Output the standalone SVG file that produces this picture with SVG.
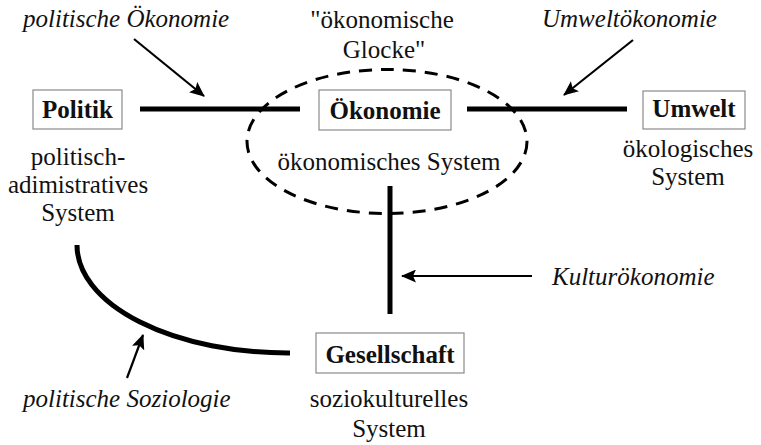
<svg xmlns="http://www.w3.org/2000/svg" width="761" height="445" viewBox="0 0 761 445">
<style>
text{font-family:"Liberation Serif","Times New Roman",serif;font-size:25px;fill:#111}
.b{font-weight:bold}
.i{font-style:italic}
.box{fill:#fff;stroke:#8a8a8a;stroke-width:1.2}
.thick{stroke:#000;stroke-width:5;fill:none}
.arr{stroke:#000;stroke-width:2.2;fill:none;marker-end:url(#ah)}
</style>
<defs>
<marker id="ah" markerUnits="userSpaceOnUse" markerWidth="15" markerHeight="13" refX="14" refY="6.5" orient="auto">
<path d="M0,0 L15,6.5 L0,13 L3,6.5 Z" fill="#000"/>
</marker>
</defs>
<rect width="761" height="445" fill="#fff"/>
<g id="connectors">
<ellipse cx="387" cy="141.5" rx="140" ry="72" fill="none" stroke="#000" stroke-width="3" stroke-dasharray="13,9"/>
<line class="thick" x1="140" y1="109" x2="300" y2="109"/>
<line class="thick" x1="467" y1="109" x2="627" y2="109"/>
<line class="thick" x1="390" y1="186" x2="390" y2="314"/>
<path class="thick" d="M77,245 A211,108 0 0 0 290,353"/>
<line class="arr" x1="134" y1="39" x2="204" y2="96"/>
<line class="arr" x1="633" y1="40" x2="564" y2="95"/>
<line class="arr" x1="532" y1="276" x2="402" y2="276"/>
<line class="arr" x1="127" y1="378" x2="143" y2="335"/>
</g>
<g id="politik">
<rect class="box" x="33" y="90" width="89" height="39"/>
<text class="b" x="77.5" y="118" text-anchor="middle">Politik</text>
<text x="78" y="165" text-anchor="middle">politisch-</text>
<text x="78" y="193" text-anchor="middle">adimistratives</text>
<text x="78" y="221" text-anchor="middle">System</text>
</g>
<g id="oekonomie">
<rect class="box" x="319" y="90" width="132" height="40"/>
<text class="b" x="385" y="119" text-anchor="middle">Ökonomie</text>
<text x="389" y="170" text-anchor="middle">ökonomisches System</text>
</g>
<g id="glocke">
<text x="382" y="28" text-anchor="middle">"ökonomische</text>
<text x="384" y="58" text-anchor="middle">Glocke"</text>
</g>
<g id="umwelt">
<rect class="box" x="643" y="91" width="102" height="38"/>
<text class="b" x="694" y="117" text-anchor="middle">Umwelt</text>
<text x="688" y="157" text-anchor="middle">ökologisches</text>
<text x="688" y="185" text-anchor="middle">System</text>
</g>
<g id="gesellschaft">
<rect class="box" x="316" y="333" width="148" height="40"/>
<text class="b" x="390" y="363" text-anchor="middle">Gesellschaft</text>
<text x="389" y="407" text-anchor="middle">soziokulturelles</text>
<text x="389" y="437" text-anchor="middle">System</text>
</g>
<g id="labels">
<text class="i" x="23" y="27">politische Ökonomie</text>
<text class="i" x="542" y="27">Umweltökonomie</text>
<text class="i" x="552" y="285">Kulturökonomie</text>
<text class="i" x="23" y="407">politische Soziologie</text>
</g>
</svg>
